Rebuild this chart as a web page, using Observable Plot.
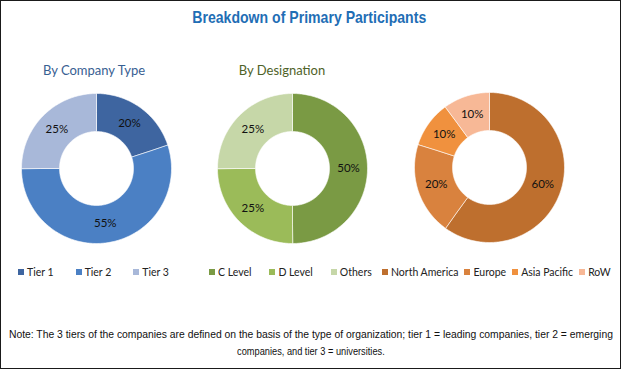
<!DOCTYPE html>
<html><head><meta charset="utf-8">
<script src="https://cdn.jsdelivr.net/npm/d3@7"></script>
<script src="https://cdn.jsdelivr.net/npm/@observablehq/plot@0.6"></script>
<style>
body{margin:0;background:#fff}
#frame{position:relative;width:619px;height:367px;border:1px solid #1a1a1a;overflow:hidden;background:#fff}
.abs{position:absolute;white-space:nowrap}
.fit{position:absolute;white-space:nowrap;transform-origin:center top;font-family:"Liberation Sans","Arial",sans-serif}
.sub{font-family:Lato,sans-serif;font-size:13px;top:61px;transform:translateX(-50%)}
.lg-swatches{font-family:Lato,sans-serif !important;font-size:10.5px !important;color:#222 !important;min-height:0 !important;}
.lg-swatch > svg{margin-right:3px !important}
</style></head><body><div id="frame"></div>
<script>
// ---- data ----
const titleText = "Breakdown of Primary Participants";
const companyTitle = "By Company Type";
const companyTypes = ["Tier 1", "Tier 2", "Tier 3"];
const companyShares = [20, 55, 25];
const designationTitle = "By Designation";
const designations = ["C Level", "D Level", "Others"];
const designationShares = [50, 25, 25];
const regions = ["North America", "Europe", "Asia Pacific", "RoW"];
const regionShares = [60, 20, 10, 10];
const noteLines = [
  "Note: The 3 tiers of the companies are defined on the basis of the type of organization; tier 1 = leading companies, tier 2 = emerging",
  "companies, and tier 3 = universities."
];

// ---- styles ----
const companyColors = ["#3e65a0", "#4b80c4", "#a8b8d9"];
const designationColors = ["#7a9a44", "#9bbb59", "#c6d7a8"];
const regionColors = ["#be6f2e", "#d9823e", "#f0913e", "#f7b896"];

const frame = document.getElementById("frame");
const R_OUT = 60, R_IN = 29.6, R_MID = (R_OUT + R_IN) / 2;
const pos = (angle, r) => [180 - angle, 90 - r];

function slices(names, values) {
  const total = d3.sum(values);
  let acc = 0;
  return names.map((name, i) => {
    const a0 = acc / total * 360;
    acc += values[i];
    const a1 = acc / total * 360;
    const n = Math.max(2, Math.ceil(a1 - a0));
    const ring = [];
    for (let k = 0; k <= n; k++) ring.push(pos(a0 + (a1 - a0) * k / n, R_OUT));
    for (let k = n; k >= 0; k--) ring.push(pos(a0 + (a1 - a0) * k / n, R_IN));
    ring.push(ring[0].slice());
    const f = {type: "Feature", properties: {name, value: values[i], mid: (a0 + a1) / 2},
      geometry: {type: "Polygon", coordinates: [ring]}};
    if (d3.geoArea(f) > 2 * Math.PI) ring.reverse();
    return f;
  });
}

function donut(names, values, colors, cx, cy) {
  const features = slices(names, values);
  const size = 160;
  const svg = Plot.plot({
    width: size, height: size, margin: 5,
    projection: {type: "azimuthal-equidistant", rotate: [0, -90],
      domain: d3.geoCircle().center([0, 90]).radius(R_OUT).precision(1)()},
    color: {domain: names, range: colors},
    style: {fontFamily: "Lato, sans-serif", background: "transparent", overflow: "visible"},
    marks: [
      Plot.geo(features, {fill: d => d.properties.name, stroke: "white", strokeWidth: 0.6}),
      Plot.text(features, {
        x: d => pos(d.properties.mid, R_MID)[0],
        y: d => pos(d.properties.mid, R_MID)[1],
        text: d => d.properties.value + "%",
        fill: "#111", fontSize: 11.5
      })
    ]
  });
  svg.style.position = "absolute";
  svg.style.left = (cx - size / 2) + "px";
  svg.style.top = (cy - size / 2) + "px";
  frame.appendChild(svg);
}

function legend(names, colors, left, gap) {
  const lg = Plot.legend({color: {domain: names, range: colors}, swatchSize: 6, className: "lg"});
  lg.style.position = "absolute";
  lg.style.left = left + "px";
  lg.style.top = "265px";
  lg.style.margin = "0";
  lg.querySelectorAll(".lg-swatch").forEach(s => s.style.marginRight = gap + "px");
  frame.appendChild(lg);
}

// text squeezed horizontally to a target width (narrow-font look), centred on cx
function fitText(text, cx, top, targetWidth, css) {
  const d = document.createElement("div");
  d.className = "fit";
  d.textContent = text;
  Object.assign(d.style, css);
  frame.appendChild(d);
  const w = d.getBoundingClientRect().width;
  d.style.left = (cx - w / 2) + "px";
  d.style.top = top + "px";
  const s = targetWidth ? Math.min(1, targetWidth / w) : 0.84;
  d.style.transform = `scaleX(${s})`;
  return d;
}

function addText(cls, text, css) {
  const d = document.createElement("div");
  d.className = "abs " + cls;
  d.textContent = text;
  Object.assign(d.style, css);
  frame.appendChild(d);
}

fitText(titleText, 308, 7, 234, {fontSize: "17px", fontWeight: "bold", color: "#1f6eb5"});
addText("sub", companyTitle, {left: "93px", color: "#376092"});
addText("sub", designationTitle, {left: "281px", color: "#4f6228"});

donut(companyTypes, companyShares, companyColors, 95, 167);
donut(designations, designationShares, designationColors, 291, 167);
donut(regions, regionShares, regionColors, 488, 166);

legend(companyTypes, companyColors, 17, 22);
legend(designations, designationColors, 208, 18);
legend(regions, regionColors, 381, 6);

fitText(noteLines[0], 310, 327, 604, {fontSize: "11px", color: "#111"});
fitText(noteLines[1], 310, 344, null, {fontSize: "11px", color: "#111"});
</script></body></html>
